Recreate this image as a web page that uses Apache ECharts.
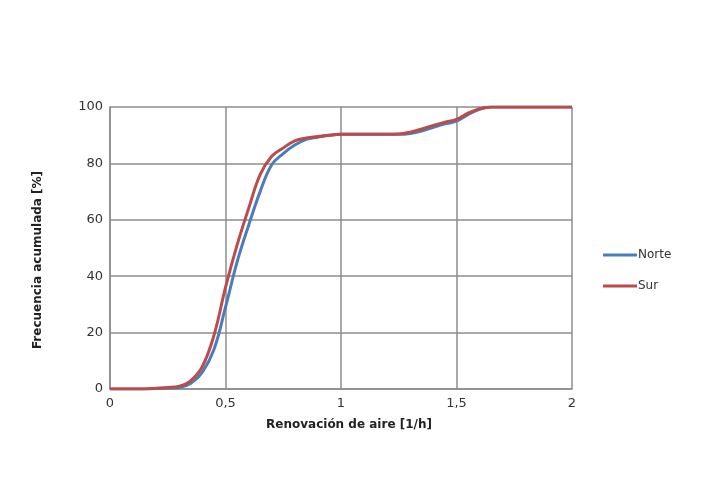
<!DOCTYPE html>
<html>
<head>
<meta charset="utf-8">
<script src="https://cdn.jsdelivr.net/npm/echarts@6/dist/echarts.min.js"></script>
<style>
html,body{margin:0;padding:0;background:#fff;}
#c{width:701px;height:498px;}
</style>
</head>
<body>
<div id="c"></div>
<script>
var xValues = [0, 0.05, 0.1, 0.15, 0.2, 0.25, 0.3, 0.35, 0.4, 0.45, 0.5, 0.55, 0.6, 0.65, 0.7, 0.75, 0.8, 0.85, 0.9, 0.95, 1.0, 1.1, 1.2, 1.25, 1.3, 1.35, 1.4, 1.45, 1.5, 1.55, 1.6, 1.65, 1.7, 1.8, 1.9, 2.0];
var norte = [0, 0, 0, 0, 0.2, 0.3, 0.5, 2, 6, 14, 29, 45, 58, 70, 79.5, 83.5, 86.5, 88.5, 89.3, 90, 90.3, 90.3, 90.3, 90.3, 90.6, 91.5, 92.8, 94, 95, 97.3, 99.2, 100, 100, 100, 100, 100];
var sur =   [0, 0, 0, 0, 0.3, 0.5, 1, 3, 8, 19, 36, 51, 64, 76, 82.5, 85.5, 88, 89, 89.5, 90, 90.3, 90.3, 90.3, 90.4, 91.1, 92.2, 93.5, 94.6, 95.6, 97.8, 99.4, 100, 100, 100, 100, 100];
var seriesNames = ['Norte', 'Sur'];
var xTitle = 'Renovación de aire [1/h]';
var yTitle = 'Frecuencia acumulada [%]';

function pairs(ys){ return xValues.map(function(x,i){ return [x, ys[i]]; }); }

var chart = echarts.init(document.getElementById('c'), null, {renderer:'canvas'});
var font = 'DejaVu Sans';
chart.setOption({
  animation: false,
  backgroundColor: '#ffffff',
  grid: {left: 110, right: 129, top: 107, bottom: 109, containLabel: false},
  legend: {
    orient: 'vertical',
    left: 598, top: 244,
    itemWidth: 34, itemHeight: 3, itemGap: 19,
    icon: 'rect',
    textStyle: {fontFamily: font, fontSize: 12, color: '#333', padding: [0,0,0,-4]},
    data: seriesNames
  },
  xAxis: {
    type: 'value', min: 0, max: 2, interval: 0.5,
    name: xTitle, nameLocation: 'middle', nameGap: 30,
    nameTextStyle: {fontFamily: font, fontSize: 12, fontWeight: 'bold', color: '#222', padding: [0,0,0,16]},
    axisLine: {show: true, lineStyle: {color: '#8c8c8c', width: 1.5}},
    axisTick: {show: false},
    axisLabel: {fontFamily: font, fontSize: 13, color: '#333', margin: 8,
      formatter: function(v){ return String(v).replace('.', ','); }},
    splitLine: {show: true, lineStyle: {color: '#8c8c8c', width: 1.5}}
  },
  yAxis: {
    type: 'value', min: 0, max: 100, interval: 20,
    name: yTitle, nameLocation: 'middle', nameGap: 66, nameRotate: 90,
    nameTextStyle: {fontFamily: font, fontSize: 12, fontWeight: 'bold', color: '#222', padding: [0,24,0,0]},
    axisLine: {show: true, lineStyle: {color: '#8c8c8c', width: 1.5}},
    axisTick: {show: false},
    axisLabel: {fontFamily: font, fontSize: 13, color: '#333', margin: 7},
    splitLine: {show: true, lineStyle: {color: '#8c8c8c', width: 1.5}}
  },
  series: [
    {name: seriesNames[0], type: 'line', data: pairs(norte), showSymbol: false, symbol: 'none',
     smooth: 0.4, color: '#4A7EBB', lineStyle: {width: 3, color: '#4A7EBB'}},
    {name: seriesNames[1], type: 'line', data: pairs(sur), showSymbol: false, symbol: 'none',
     smooth: 0.4, color: '#BE4B48', lineStyle: {width: 3, color: '#BE4B48'}}
  ]
});
</script>
</body>
</html>
